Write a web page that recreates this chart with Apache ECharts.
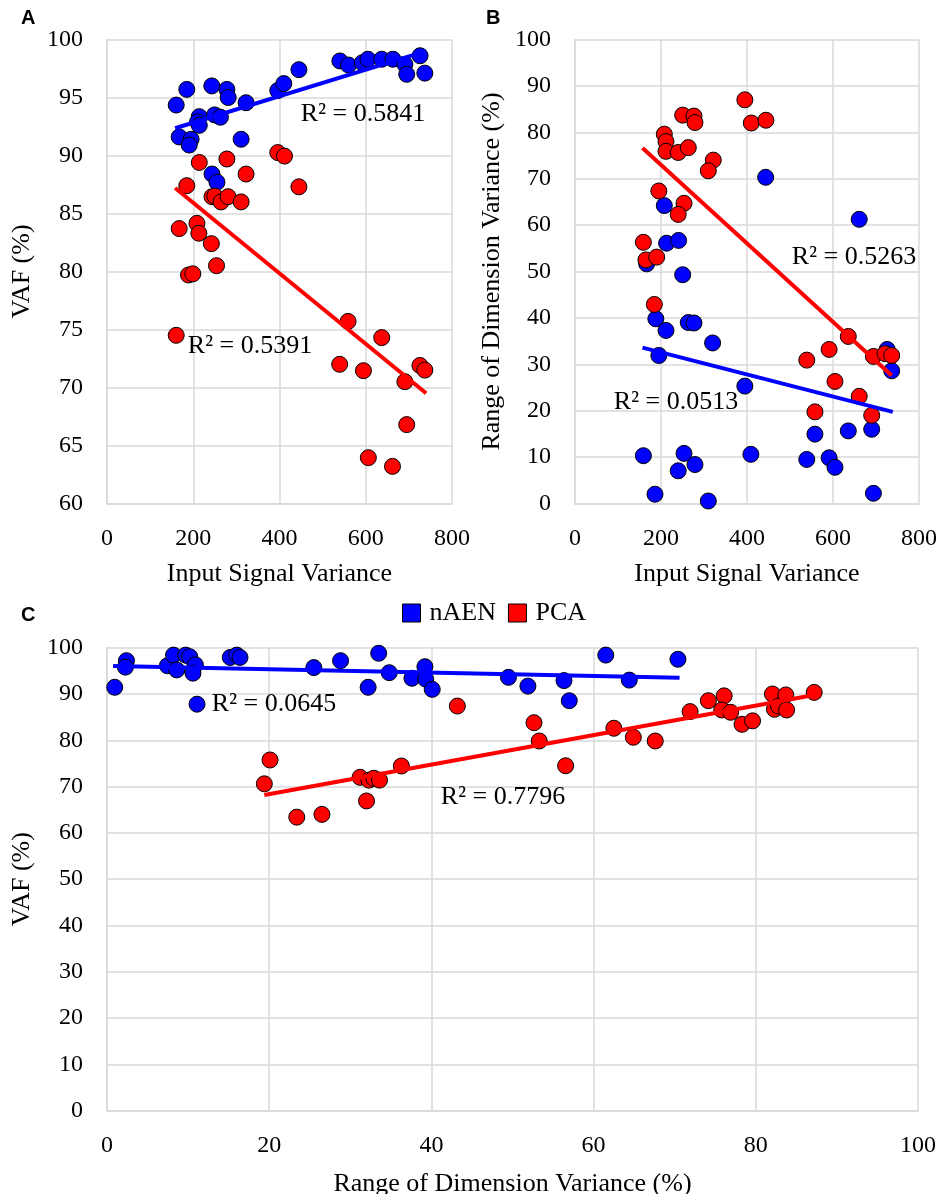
<!DOCTYPE html>
<html>
<head>
<meta charset="utf-8">
<style>
  html, body { margin: 0; padding: 0; background: #fff; }
  #chart { width: 940px; height: 1194px; }
</style>
<script src="https://cdn.jsdelivr.net/npm/echarts@6/dist/echarts.min.js"></script>
</head>
<body>
<div id="chart"></div>
<script>
// panel A: input signal variance vs VAF
var aNaen = [[160.5,94.35],[185,95.7],[243,96.0],[278,95.7],[281,95.0],[322.5,94.55],[445,97.4],[396,95.6],[410,96.2],[540,98.15],[560,97.8],[592,98.0],[605,98.3],[637,98.3],[663,98.3],[690.7,97.86],[695,97.0],[726,98.6],[737,97.1],[214,93.35],[210,92.9],[214,92.6],[249.5,93.5],[263,93.3],[167.4,91.6],[195,91.4],[190.7,90.9],[311,91.4],[243.5,88.4],[255,87.7]];
var aPca = [[214,89.4],[278,89.7],[396,90.25],[411.6,89.95],[322.5,88.4],[445,87.3],[185,87.4],[243.5,86.45],[250,86.5],[264.4,86.0],[280.7,86.45],[311,86.0],[167.4,83.7],[208.6,84.15],[213,83.3],[242,82.4],[254,80.5],[189,79.7],[199,79.8],[160.5,74.5],[559,75.7],[637,74.3],[539.5,72.0],[594.6,71.45],[725.6,71.9],[737,71.5],[690.7,70.5],[695,66.8],[606,63.95],[662,63.2]];
var aNaenTrend = [[158,92.35],[740,99.0]];
var aPcaTrend = [[158,87.2],[740,69.5]];

// panel B: input signal variance vs range of dimension variance
var bNaen = [[443.4,70.3],[661,61.25],[207.7,64.2],[213,56.1],[241,56.7],[166.7,51.65],[250.4,49.3],[188,39.8],[211.6,37.3],[263.5,39.0],[276.7,38.9],[320,34.6],[195,31.9],[395,25.3],[726,33.2],[736.5,28.6],[558,14.95],[635.6,15.65],[690,16.0],[159,10.3],[253.5,10.8],[279,8.4],[240,7.05],[409,10.6],[539,9.5],[591,9.85],[604.6,7.8],[186,2.0],[310,0.54],[694,2.2]];
var bPca = [[395,87.0],[250.4,83.7],[276.7,83.5],[279,82.1],[410,82.0],[444,82.6],[207.7,79.6],[211.6,78.0],[211.6,75.9],[240,75.65],[263.5,76.7],[321.6,74.0],[310,71.7],[195,67.35],[253.5,64.7],[240,62.3],[159,56.3],[165,52.5],[190,53.1],[184.5,42.9],[635.6,36.0],[591,33.2],[539,30.9],[694,31.7],[721,32.3],[736.5,31.9],[604.6,26.3],[661,23.1],[558,19.75],[690,19.0]];
var bNaenTrend = [[157,33.6],[739,19.75]];
var bPcaTrend = [[157,76.6],[736.5,27.6]];

// panel C: range of dimension variance vs VAF
var cNaen = [[0.95,91.45],[2.4,97.2],[2.27,95.8],[7.45,96.1],[8.2,98.4],[8.6,95.2],[9.7,98.4],[10.2,98.05],[10.9,96.3],[10.6,94.5],[11.1,87.8],[15.2,97.9],[16.0,98.4],[16.4,97.9],[25.5,95.7],[28.8,97.2],[33.5,98.8],[32.2,91.45],[34.8,94.6],[37.6,93.4],[39.2,95.9],[39.3,93.2],[40.1,91.0],[49.5,93.6],[51.9,91.7],[56.35,92.9],[57.0,88.55],[61.5,98.4],[64.4,93.0],[70.4,97.5]];
var cPca = [[20.1,75.75],[19.4,70.6],[23.4,63.4],[26.5,64.0],[31.2,72.0],[32.3,71.4],[32.9,71.8],[33.6,71.4],[32.0,66.9],[36.3,74.45],[43.2,87.4],[52.65,83.8],[53.3,79.85],[56.55,74.5],[62.5,82.6],[64.9,80.65],[67.6,79.85],[71.9,86.2],[74.15,88.55],[76.1,89.6],[75.8,86.55],[76.9,86.05],[78.3,83.45],[79.6,84.2],[82.05,90.0],[82.3,86.7],[82.8,87.4],[83.7,89.8],[83.8,86.55],[87.2,90.35]];
var cNaenTrend = [[0.75,96.05],[70.6,93.5]];
var cPcaTrend = [[19.4,68.2],[87.2,89.8]];

var r2Labels = ['R² = 0.5841', 'R² = 0.5391', 'R² = 0.5263', 'R² = 0.0513', 'R² = 0.0645', 'R² = 0.7796'];

var BLUE = '#0000ff', RED = '#ff0000', GRID = '#d9d9d9';
var serif = 'Liberation Serif';

function xAx(idx, min, max, step, name, gap) {
  return {
    type: 'value', gridIndex: idx, min: min, max: max, interval: step,
    name: name, nameLocation: 'middle', nameGap: gap,
    nameTextStyle: { fontFamily: serif, fontSize: 26, color: '#000' },
    axisLine: { lineStyle: { color: GRID, width: 1.5 } },
    axisTick: { show: false },
    axisLabel: { fontFamily: serif, fontSize: 24, color: '#000', margin: 23 },
    splitLine: { lineStyle: { color: GRID, width: 1.5 } }
  };
}
function yAx(idx, min, max, step, name, gap) {
  return {
    type: 'value', gridIndex: idx, min: min, max: max, interval: step,
    name: name, nameLocation: 'middle', nameGap: gap, nameRotate: 90,
    nameTextStyle: { fontFamily: serif, fontSize: 26, color: '#000' },
    axisLine: { show: true, lineStyle: { color: GRID, width: 1.5 } },
    axisTick: { show: false },
    axisLabel: { fontFamily: serif, fontSize: 24, color: '#000', margin: 24 },
    splitLine: { lineStyle: { color: GRID, width: 1.5 } }
  };
}
function dots(name, idx, data, color) {
  return {
    name: name, type: 'scatter', xAxisIndex: idx, yAxisIndex: idx, data: data,
    symbolSize: 16, z: 2,
    itemStyle: { color: color, borderColor: '#000', borderWidth: 1, opacity: 1 }
  };
}
// trendlines sit above the markers, as in the source figure
function trend(idx, data, color) {
  return {
    type: 'line', xAxisIndex: idx, yAxisIndex: idx, data: data,
    showSymbol: false, symbol: 'none', z: 4, silent: true,
    lineStyle: { color: color, width: 4 }
  };
}
function note(text, x, y) {
  return {
    type: 'text', x: x, y: y, z: 10,
    style: { text: text, fontFamily: serif, fontSize: 26, fill: '#000', align: 'center', verticalAlign: 'middle' }
  };
}
function letter(text, x, y) {
  return {
    type: 'text', x: x, y: y,
    style: { text: text, fontFamily: 'Liberation Sans', fontWeight: 'bold', fontSize: 20, fill: '#000' }
  };
}

var chart = echarts.init(document.getElementById('chart'), null, { renderer: 'canvas' });
chart.setOption({
  backgroundColor: '#fff',
  animation: false,
  grid: [
    { left: 107, top: 39.5, width: 345, height: 464, outerBoundsMode: 'none' },
    { left: 575, top: 39.5, width: 344, height: 464, outerBoundsMode: 'none' },
    { left: 107, top: 647.7, width: 811, height: 463, outerBoundsMode: 'none' }
  ],
  xAxis: [
    xAx(0, 0, 800, 200, 'Input Signal Variance', 58),
    xAx(1, 0, 800, 200, 'Input Signal Variance', 58),
    xAx(2, 0, 100, 20, 'Range of Dimension Variance (%)', 60)
  ],
  yAxis: [
    yAx(0, 60, 100, 5, 'VAF (%)', 72),
    yAx(1, 0, 100, 10, 'Range of Dimension Variance (%)', 70),
    yAx(2, 0, 100, 10, 'VAF (%)', 72)
  ],
  legend: {
    data: ['nAEN', 'PCA'], left: 397, top: 595, icon: 'rect',
    itemWidth: 18, itemHeight: 18, itemGap: 12,
    itemStyle: { borderColor: '#000', borderWidth: 1 },
    textStyle: { fontFamily: serif, fontSize: 26, color: '#000', padding: [0, 0, 0, 4] }
  },
  series: [
    dots('nAEN', 0, aNaen, BLUE), dots('PCA', 0, aPca, RED),
    trend(0, aNaenTrend, BLUE), trend(0, aPcaTrend, RED),
    dots('nAEN', 1, bNaen, BLUE), dots('PCA', 1, bPca, RED),
    trend(1, bNaenTrend, BLUE), trend(1, bPcaTrend, RED),
    dots('nAEN', 2, cNaen, BLUE), dots('PCA', 2, cPca, RED),
    trend(2, cNaenTrend, BLUE), trend(2, cPcaTrend, RED)
  ],
  graphic: [
    letter('A', 21, 8), letter('B', 486, 8), letter('C', 21, 605),
    note(r2Labels[0], 363, 114), note(r2Labels[1], 250, 346),
    note(r2Labels[2], 854, 257), note(r2Labels[3], 676, 402),
    note(r2Labels[4], 274, 704), note(r2Labels[5], 503, 797)
  ]
});
</script>
</body>
</html>
